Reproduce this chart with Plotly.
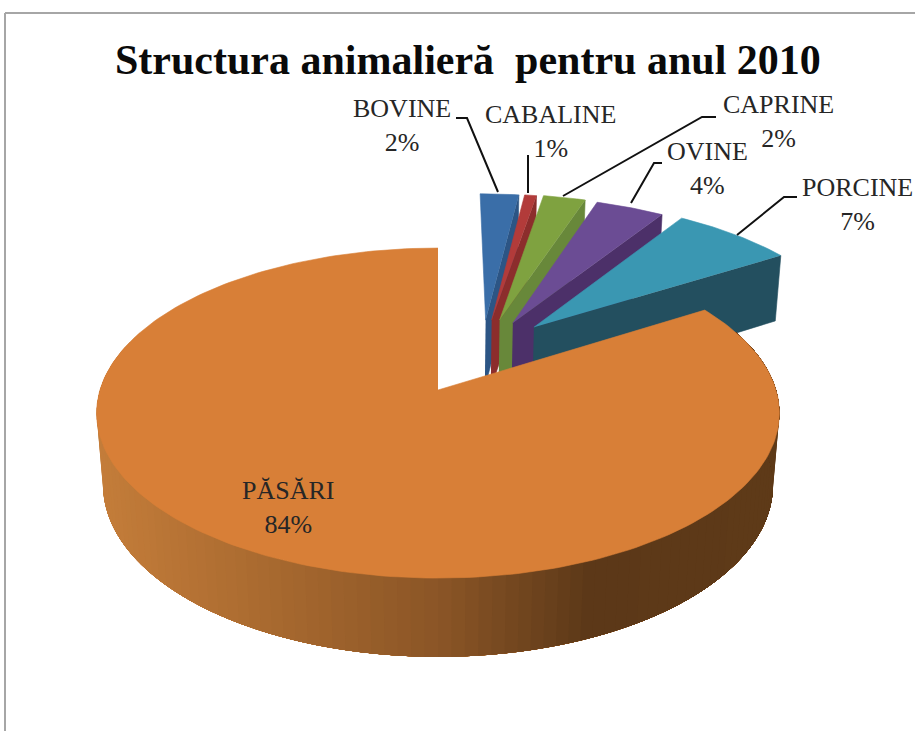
import numpy as np
import plotly.graph_objects as go

# ---- data ----
categories = ["BOVINE", "CABALINE", "CAPRINE", "OVINE", "PORCINE", "PĂSĂRI"]
values = [2.2, 0.7, 2.4, 3.9, 6.9, 83.9]   # slice shares estimated from the drawn angles
title_text = "Structura animalieră  pentru anul 2010"

# ---- styles ----
top_colors = ["#3a6ea8", "#b23b3a", "#7fa240", "#6b4c94", "#3a97b2", "#d87f37"]
wall_colors = ["#2c5585", "#8c2d2c", "#68883a", "#4c3069", "#234f5f", "#8a5526"]
pull_x = [0.15, 0.169, 0.194, 0.235, 0.30, 0.0]   # explosion of each slice, in radii
pull_y = [0.46, 0.46, 0.46, 0.44, 0.41, 0.0]
label_xy = [(402, 125), (550, 131), (778, 121), (707, 168), (857, 204), (288, 507)]
leaders = [
    [(456, 118), (467, 118), (498, 192)],
    [(528, 155), (528, 193)],
    [(716, 117), (702, 117), (563, 196)],
    [(662, 163), (654, 163), (631, 203)],
    [(797, 197), (784, 197), (737, 235)],
]

# ---- perspective projection of the pie ----
CX, CY, S = 438.0, 390.0, 338.0
TILT, DIST, H = np.radians(28.6), 6.28, 0.245


def proj(X, Y, Z=0.0):
    up = Y * np.sin(TILT) + Z * np.cos(TILT)
    depth = Y * np.cos(TILT) - Z * np.sin(TILT)
    p = DIST / (DIST + depth)
    return CX + S * p * X, CY - S * p * up


def poly(fig, xs, ys, color, lw=0.6):
    fig.add_trace(go.Scatter(x=list(xs), y=list(ys), mode="lines", fill="toself",
                             fillcolor=color, line=dict(color=color, width=lw),
                             hoverinfo="skip", showlegend=False))


def lerp_hex(stops, t):
    pos = [s[0] for s in stops]
    ch = [np.interp(t, pos, [int(s[1][i:i + 2], 16) for s in stops]) for i in (1, 3, 5)]
    return "#%02x%02x%02x" % tuple(int(round(c)) for c in ch)


fig = go.Figure()
total = sum(values)
edges = np.concatenate([[0.0], np.cumsum(values)]) / total * 2 * np.pi

# exploded small slices, back to front
for i in range(5):
    a0, a1 = edges[i], edges[i + 1]
    ox, oy = pull_x[i], pull_y[i]
    th = np.linspace(a0, a1, 30)
    xw = [ox, ox + np.sin(a1), ox + np.sin(a1), ox]
    yw = [oy, oy + np.cos(a1), oy + np.cos(a1), oy]
    zw = [0, 0, -H, -H]
    px, py = proj(np.array(xw), np.array(yw), np.array(zw, float))
    poly(fig, px, py, wall_colors[i])
    tx = np.concatenate([[ox], ox + np.sin(th)])
    ty = np.concatenate([[oy], oy + np.cos(th)])
    px, py = proj(tx, ty)
    poly(fig, px, py, top_colors[i])

# large slice: outer wall with a left-to-right shading; each strip overlaps the next
stops = [(0.0, "#c47d3a"), (0.25, "#a8692f"), (0.5, "#8a5526"), (0.72, "#5c3818"), (1.0, "#5e3a18")]
w_edges = np.linspace(np.radians(292), np.radians(68), 113)
for k in range(len(w_edges) - 1):
    th = np.linspace(w_edges[k], w_edges[-1], 40)
    xr = np.sin(th)
    yr = np.cos(th)
    x1, y1 = proj(xr, yr, 0 * xr)
    x2, y2 = proj(xr[::-1], yr[::-1], -H + 0 * xr)
    t = (np.mean(x1[:1]) - 95) / 680
    poly(fig, np.concatenate([x1, x2]), np.concatenate([y1, y2]), lerp_hex(stops, t), lw=0)

# large slice: top face
th = np.linspace(edges[5], edges[6], 240)
px, py = proj(np.concatenate([[0], np.sin(th)]), np.concatenate([[0], np.cos(th)]))
poly(fig, px, py, top_colors[5])

# leader lines
for pts in leaders:
    fig.add_trace(go.Scatter(x=[p[0] for p in pts], y=[p[1] for p in pts], mode="lines",
                             line=dict(color="#111111", width=2),
                             hoverinfo="skip", showlegend=False))

# labels (whole percents, as printed)
for name, val, (lx, ly) in zip(categories, values, label_xy):
    fig.add_annotation(x=lx, y=ly, text=f"{name}<br>{round(val)}%", showarrow=False,
                       font=dict(family="Liberation Serif", size=26, color="#262626"),
                       align="center", xanchor="center", yanchor="middle")

fig.add_annotation(x=468, y=60, text=f"<b>{title_text}</b>", showarrow=False,
                   font=dict(family="Liberation Serif", size=42, color="#0a0a0a"),
                   xanchor="center", yanchor="middle")

# chart frame
frame = dict(color="#a6a6a6", width=2)
fig.add_shape(type="line", x0=5, x1=915, y0=13, y1=13, line=frame)
fig.add_shape(type="line", x0=5, x1=5, y0=13, y1=731, line=frame)

fig.update_layout(
    width=915, height=731, margin=dict(l=0, r=0, t=0, b=0),
    paper_bgcolor="white", plot_bgcolor="white", showlegend=False,
    xaxis=dict(range=[0, 915], visible=False, fixedrange=True),
    yaxis=dict(range=[731, 0], visible=False, fixedrange=True),
)
fig.write_html("out.html", config={"displayModeBar": False},
               post_script="document.body.style.margin='0';document.body.style.overflow='hidden';")
